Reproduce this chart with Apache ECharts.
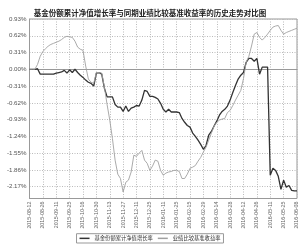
<!DOCTYPE html>
<html><head><meta charset="utf-8">
<script src="https://cdn.jsdelivr.net/npm/echarts@6/dist/echarts.min.js"></script>
<style>html,body{margin:0;padding:0;background:#fff}#c{width:300px;height:247px}</style>
</head><body><div id="c"></div>
<script>
const titleText = '基金份额累计净值增长率与同期业绩比较基准收益率的历史走势对比图';
const seriesNames = ['基金份额累计净值增长率', '业绩比较基准收益率'];
const dates = [
'2015-08-12','2015-08-14','2015-08-18','2015-08-20','2015-08-24','2015-08-26','2015-08-28','2015-09-01','2015-09-07','2015-09-09',
'2015-09-11','2015-09-15','2015-09-17','2015-09-21','2015-09-23','2015-09-25','2015-09-29','2015-10-08','2015-10-12','2015-10-14',
'2015-10-16','2015-10-20','2015-10-22','2015-10-26','2015-10-28','2015-10-30','2015-11-03','2015-11-05','2015-11-09','2015-11-11',
'2015-11-13','2015-11-17','2015-11-19','2015-11-23','2015-11-25','2015-11-27','2015-12-01','2015-12-03','2015-12-07','2015-12-09',
'2015-12-11','2015-12-15','2015-12-17','2015-12-21','2015-12-23','2015-12-25','2015-12-29','2015-12-31','2016-01-05','2016-01-07',
'2016-01-11','2016-01-13','2016-01-15','2016-01-19','2016-01-21','2016-01-25','2016-01-27','2016-01-29','2016-02-02','2016-02-04',
'2016-02-15','2016-02-17','2016-02-19','2016-02-23','2016-02-25','2016-02-29','2016-03-02','2016-03-04','2016-03-08','2016-03-10',
'2016-03-14','2016-03-16','2016-03-18','2016-03-22','2016-03-24','2016-03-28','2016-03-30','2016-04-01','2016-04-06','2016-04-08',
'2016-04-12','2016-04-14','2016-04-18','2016-04-20','2016-04-22','2016-04-26','2016-04-28','2016-05-03','2016-05-05','2016-05-09',
'2016-05-11','2016-05-13','2016-05-17','2016-05-19','2016-05-23','2016-05-25','2016-05-27','2016-05-31','2016-06-02','2016-06-06',
'2016-06-08'
];
const fundGrowth = [
0,0,0,0.01,-0.09,-0.09,-0.09,-0.09,-0.09,-0.09,
-0.07,-0.06,-0.05,-0.02,-0.07,-0.01,-0.06,0,-0.06,-0.11,
-0.15,-0.20,-0.24,-0.26,-0.31,-0.07,-0.06,-0.09,-0.35,-0.51,
-0.51,-0.51,-0.65,-0.70,-0.70,-0.78,-0.68,-0.78,-0.72,-0.70,
-0.67,-0.68,-0.57,-0.39,-0.41,-0.50,-0.50,-0.52,-0.55,-0.63,
-0.74,-0.79,-0.74,-0.79,-0.79,-0.79,-0.80,-0.91,-0.98,-1.04,
-1.07,-1.18,-1.24,-1.31,-1.39,-1.48,-1.41,-1.22,-1.15,-1.05,
-0.96,-0.85,-0.78,-0.74,-0.68,-0.57,-0.43,-0.30,-0.18,-0.11,
-0.06,0.13,0.20,0.20,0.15,0.20,-0.09,0.04,0.04,0.04,
-1.96,-1.83,-1.87,-1.98,-2.22,-2.05,-2.18,-2.15,-2.24,-2.25,
-2.25
];
const benchmark = [
0,0,0,0.09,0.24,0.33,0.38,0.43,0.46,0.48,
0.50,0.52,0.55,0.59,0.61,0.60,0.59,0.52,0.41,0.37,
0.35,0.06,-0.18,-0.24,-0.26,-0.06,-0.06,-0.07,-0.33,-0.65,
-0.94,-1.28,-1.68,-1.94,-2.02,-2.27,-2.09,-2.05,-1.90,-1.59,
-1.61,-1.55,-1.50,-1.68,-1.74,-1.87,-1.79,-1.68,-1.70,-1.87,
-1.96,-1.92,-1.90,-1.89,-1.87,-1.87,-1.89,-2.02,-2.02,-1.94,
-1.83,-1.81,-1.78,-1.70,-1.63,-1.53,-1.44,-1.31,-1.18,-1.05,
-0.98,-0.94,-0.92,-0.91,-0.80,-0.76,-0.67,-0.57,-0.48,-0.39,
-0.17,0.13,0.24,0.43,0.65,0.68,0.59,0.54,0.59,0.65,
0.72,0.78,0.80,0.81,0.72,0.65,0.68,0.70,0.72,0.74,
0.76
];
const yTicks = [-2.17,-1.86,-1.55,-1.24,-0.93,-0.62,-0.31,0.00,0.31,0.62,0.93];

const chart = echarts.init(document.getElementById('c'), null, {renderer:'canvas'});
const numFont = 'Liberation Sans, Arial, sans-serif';
chart.setOption({
  animation:false,
  title:{text:titleText,left:'center',top:4,textStyle:{fontSize:7.5,fontWeight:'bold',color:'#222',fontFamily:'Noto Sans CJK SC'}},
  legend:{
    bottom:4,left:'center',itemWidth:10,itemHeight:1.5,itemGap:5,
    borderColor:'#999',borderWidth:1,padding:[2,3],
    textStyle:{fontSize:5.3,color:'#333',fontFamily:'Noto Sans CJK SC'},
    data:[{name:seriesNames[0],icon:'rect'},{name:seriesNames[1],icon:'rect'}]
  },
  grid:{left:29.5,right:3,top:19,bottom:48.5,show:true,borderColor:'#999',borderWidth:1},
  xAxis:{
    type:'category',data:dates,boundaryGap:false,
    axisLine:{lineStyle:{color:'#999'}},
    axisTick:{show:false},
    axisLabel:{interval:4,rotate:90,fontSize:5.3,color:'#666',fontFamily:numFont,margin:3},
    splitLine:{show:true,interval:4,lineStyle:{color:'#bbb',type:[1,1.5],width:1}}
  },
  yAxis:{
    type:'value',min:-2.39,max:0.93,
    axisLine:{show:true,lineStyle:{color:'#999'}},
    axisTick:{show:false,customValues:yTicks},
    axisLabel:{customValues:yTicks,fontSize:6.2,color:'#555',fontFamily:numFont,margin:3,
      formatter:v=>v.toFixed(2)+'%'},
    splitLine:{show:true,lineStyle:{color:'#bbb',type:[1,1.5],width:1}}
  },
  series:[
    {name:seriesNames[0],type:'line',data:fundGrowth,symbol:'none',lineStyle:{color:'#333',width:1.3},itemStyle:{color:'#333'}},
    {name:seriesNames[1],type:'line',data:benchmark,symbol:'none',lineStyle:{color:'#a0a0a0',width:0.9},itemStyle:{color:'#a0a0a0'}}
  ]
});
</script></body></html>
